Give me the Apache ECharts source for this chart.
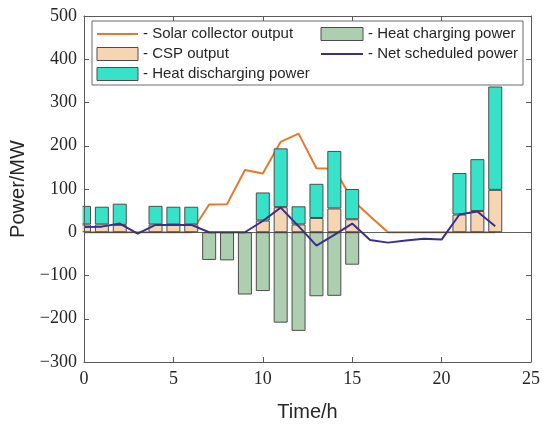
<!DOCTYPE html>
<html>
<head>
<meta charset="utf-8">
<script src="https://cdn.jsdelivr.net/npm/echarts@6/dist/echarts.min.js"></script>
<style>
html,body{margin:0;padding:0;background:#fff;}
#c{width:550px;height:427px;}
</style>
</head>
<body>
<div id="c"></div>
<script>
// x positions 0..25 (hours); data exist for hours 0..23
const xCategories = ['0','1','2','3','4','5','6','7','8','9','10','11','12','13','14','15','16','17','18','19','20','21','22','23','24','25'];
const solarOutput = [0,0,0,0,0,0,0,64,65,144,136,209,228,148,147,75,37,0,0,0,0,0,0,0];
const cspOutput = [18,18,17,null,18,18,18,null,null,null,27,58,18,33,55,30,null,null,null,null,null,41,49,98];
const heatDischarging = [43,41,49,null,43,41,41,null,null,null,65,136,42,79,133,70,null,null,null,null,null,96,120,239];
const heatCharging = [null,null,null,null,null,null,null,-64,-65,-144,-136,-209,-228,-148,-147,-75,null,null,null,null,null,null,null,null];
const netScheduled = [12,13,20,-3,17,17,17,0,0,0,26,57,14,-31,-6,20,-18,-24,-19,-15,-17,41,48,14];
const yTicks = {min:-300, max:500, interval:100};
const xLabelStep = 5;

const chart = echarts.init(document.getElementById('c'));
const axisColor = '#5a5a5a';
const tickFont = {fontFamily:'Liberation Serif', fontSize:18, color:'#262626'};
const nameFont = {fontFamily:'Liberation Sans', fontSize:20, color:'#262626'};
const barBorder = {borderColor:'#4d4d4d', borderWidth:1};
const everyStep = i => i % xLabelStep === 0;
const hiddenSymbol = {color:'rgba(0,0,0,0)', borderWidth:0, borderColor:'rgba(0,0,0,0)'};
const legendBox = c => ({color:c, borderColor:'#4d4d4d', borderWidth:1});
const grid = {left:83, right:19, top:16, bottom:60};

chart.setOption({
  animation:false,
  grid:grid,
  xAxis:[
    {type:'category', data:xCategories, boundaryGap:false, position:'bottom', z:10,
     axisLine:{show:true, onZero:false, lineStyle:{color:axisColor}},
     axisTick:{show:true, inside:true, length:5, interval:everyStep, lineStyle:{color:axisColor}},
     axisLabel:Object.assign({margin:8, interval:everyStep}, tickFont),
     splitLine:{show:false},
     name:'Time/h', nameLocation:'middle', nameGap:40, nameTextStyle:nameFont},
    {type:'category', data:xCategories, boundaryGap:false, position:'top', z:10,
     axisLine:{show:true, onZero:false, lineStyle:{color:axisColor}},
     axisTick:{show:true, inside:true, length:5, interval:everyStep, lineStyle:{color:axisColor}},
     axisLabel:{show:false}, splitLine:{show:false}}
  ],
  yAxis:[
    {type:'value', min:yTicks.min, max:yTicks.max, interval:yTicks.interval, position:'left', z:10,
     axisLine:{show:true, onZero:false, lineStyle:{color:axisColor}},
     axisTick:{show:true, inside:true, length:5, lineStyle:{color:axisColor}},
     axisLabel:Object.assign({margin:7, formatter:v => String(v).replace('-', '\u2212')}, tickFont),
     splitLine:{show:false},
     name:'Power/MW', nameLocation:'middle', nameGap:56, nameRotate:90, nameTextStyle:nameFont},
    {type:'value', min:yTicks.min, max:yTicks.max, interval:yTicks.interval, position:'right', z:10,
     axisLine:{show:true, onZero:false, lineStyle:{color:axisColor}},
     axisTick:{show:true, inside:true, length:5, lineStyle:{color:axisColor}},
     axisLabel:{show:false}, splitLine:{show:false}}
  ],
  legend:[
    {orient:'vertical', left:96, top:24, padding:0, itemGap:0, itemWidth:41, itemHeight:13, z:10,
     data:[{name:'Solar collector output', itemStyle:hiddenSymbol},
           {name:'CSP output', icon:'rect', itemStyle:legendBox('#F6D6B2')},
           {name:'Heat discharging power', icon:'rect', itemStyle:legendBox('#36E2C8')}],
     formatter:n => '- ' + n,
     textStyle:{fontFamily:'Liberation Sans', fontSize:15, color:'#262626', lineHeight:20}},
    {orient:'vertical', left:320, top:24, padding:0, itemGap:0, itemWidth:42, itemHeight:13, z:10,
     data:[{name:'Heat charging power', icon:'rect', itemStyle:legendBox('#AECFAF')},
           {name:'Net scheduled power', itemStyle:hiddenSymbol}],
     formatter:n => '- ' + n,
     textStyle:{fontFamily:'Liberation Sans', fontSize:15, color:'#262626', lineHeight:20}}
  ],
  graphic:[
    // white mask left of the plot frame so the hour-0 bar is cut at the axis
    {type:'rect', z:5, left:grid.left - 8, top:grid.top, silent:true,
     shape:{width:7.5, height:427 - grid.top - grid.bottom},
     style:{fill:'#fff'}},
    {type:'rect', z:3, shape:{x:92, y:21, width:431, height:64},
     style:{fill:'#fff', stroke:'#6b6b6b', lineWidth:1}}
  ],
  series:[
    {name:'Solar collector output', type:'line', data:solarOutput, symbol:'none', z:1,
     lineStyle:{color:'#E8782B', width:2}, itemStyle:{color:'#E8782B'},
     markLine:{silent:true, symbol:'none', label:{show:false},
       lineStyle:{color:'#3a3a3a', width:0.8, type:'solid'}, data:[{yAxis:0}]}},
    {name:'CSP output', type:'bar', stack:'p', data:cspOutput, barWidth:14, z:2,
     itemStyle:Object.assign({color:'#F6D6B2'}, barBorder)},
    {name:'Heat discharging power', type:'bar', stack:'p', data:heatDischarging, barWidth:14, z:2,
     itemStyle:Object.assign({color:'#36E2C8'}, barBorder)},
    {name:'Heat charging power', type:'bar', stack:'p', data:heatCharging, barWidth:14, z:2,
     itemStyle:Object.assign({color:'#AECFAF'}, barBorder)},
    {name:'Net scheduled power', type:'line', data:netScheduled, symbol:'none', z:4,
     lineStyle:{color:'#3B2F8E', width:2}, itemStyle:{color:'#3B2F8E'}}
  ]
});
</script>
</body>
</html>
